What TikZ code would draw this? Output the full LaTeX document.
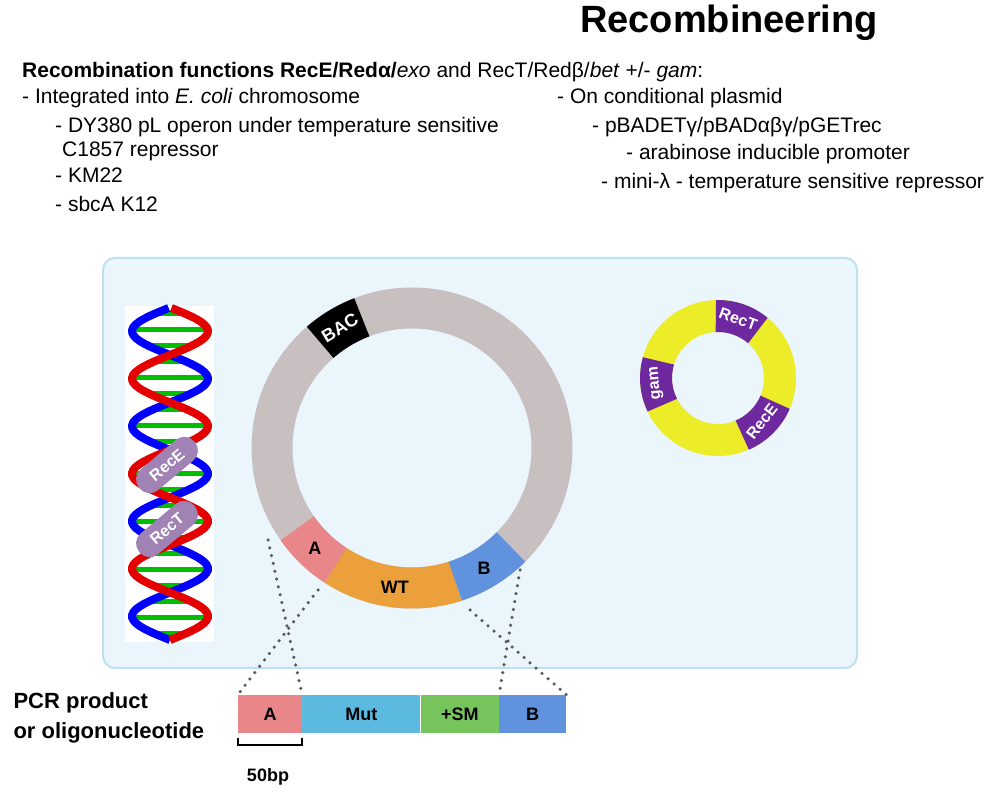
\documentclass[tikz,border=0pt]{standalone}
\usepackage{fontspec}
\setmainfont{Liberation Sans}
\definecolor{boxfill}{RGB}{234,245,252}
\definecolor{boxline}{RGB}{190,224,242}
\definecolor{ringgray}{RGB}{200,192,192}
\definecolor{segA}{RGB}{232,134,138}
\definecolor{segWT}{RGB}{236,160,60}
\definecolor{segB}{RGB}{96,146,222}
\definecolor{mut}{RGB}{92,186,224}
\definecolor{sm}{RGB}{120,196,92}
\definecolor{pill}{RGB}{160,130,180}
\definecolor{purp}{RGB}{110,40,160}
\definecolor{yel}{RGB}{236,236,40}
\begin{document}
\begin{tikzpicture}[x=1pt,y=1pt,
 txt/.style={anchor=base west,inner sep=0pt,font=\fontsize{21}{23}\selectfont},
 seg/.style={line width=41pt},
 sseg/.style={line width=32pt},
 lab/.style={font=\bfseries\fontsize{18}{20}\selectfont},
 slab/.style={font=\bfseries\fontsize{16}{18}\selectfont,text=white},
 dots/.style={draw=gray!70!black,line width=3.5pt,line cap=round,dash pattern=on 0pt off 8pt},
 bar/.style={draw=none,minimum height=38pt,inner sep=0pt,font=\bfseries\fontsize{18}{20}\selectfont},
 pillst/.style={rotate=40,fill=pill,rounded corners=13pt,minimum width=72pt,minimum height=27pt,inner sep=1pt,font=\bfseries\fontsize{16}{18}\selectfont,text=white}]
\useasboundingbox (0,0) rectangle (1000,797);
\fill[white] (0,0) rectangle (1000,797);
% title and text
\node[anchor=base,font=\bfseries\fontsize{38}{40}\selectfont] (title) at (729,764) {Recombineering};
\node[txt] (h) at (22,719) {\textbf{Recombination functions RecE/Redα/}\textit{exo} and RecT/Redβ/\textit{bet} +/- \textit{gam}:};
\node[txt] (l1) at (22,693) {- Integrated into \textit{E. coli} chromosome};
\node[txt] (l2) at (55,664) {- DY380 pL operon under temperature sensitive};
\node[txt] (l3) at (62,640) {C1857 repressor};
\node[txt] (l4) at (55,614) {- KM22};
\node[txt] (l5) at (55,585) {- sbcA K12};
\node[txt] (r1) at (557,693) {- On conditional plasmid};
\node[txt] (r2) at (592,664) {- pBADETγ/pBADαβγ/pGETrec};
\node[txt] (r3) at (626,637) {- arabinose inducible promoter};
\node[txt] (r4) at (601,608) {- mini-λ - temperature sensitive repressor};
% cell box
\draw[draw=boxline,line width=2pt,fill=boxfill,rounded corners=12pt] (103,129) rectangle (857,539);
% DNA helix
\fill[white] (125,155) rectangle (214,491);
\foreach \y in {163,179,...,487} {
  \pgfmathsetmacro{\w}{abs(38*sin(3.789*(\y-157)))}
  \draw[green!75!black,line width=5pt] ({170-\w},\y) -- ({170+\w},\y);
}
\draw[blue,line width=8pt] plot[domain=157:489,samples=120] ({170-38*sin(3.789*(\x-157))},\x);
\draw[red!90!black,line width=8pt] plot[domain=157:489,samples=120] ({170+38*sin(3.789*(\x-157))},\x);
\node[pillst] (rece) at (167,332) {RecE};
\node[pillst] (rect) at (167,268) {RecT};
% main ring
\begin{scope}[shift={(412,349)}]
\draw[seg,color=ringgray] (0,0) circle[radius=140pt];
\draw[seg,color=black] (111:140pt) arc[start angle=111,end angle=131,radius=140pt];
\draw[seg,color=segA] (-145:140pt) arc[start angle=-145,end angle=-123,radius=140pt];
\draw[seg,color=segWT] (-123:140pt) arc[start angle=-123,end angle=-72,radius=140pt];
\draw[seg,color=segB] (-72:140pt) arc[start angle=-72,end angle=-45,radius=140pt];
\node[lab,text=white,rotate=31] (bac) at (121:140pt) {BAC};
\node[lab] (ra) at (-134:140pt) {A};
\node[lab] (rwt) at (-97:140pt) {WT};
\node[lab] (rb) at (-59:140pt) {B};
\end{scope}
\coordinate (a1) at (268,257);
\coordinate (a2) at (318,207);
\coordinate (b1) at (470,187);
\coordinate (b2) at (520,227);
% small ring
\begin{scope}[shift={(718,419)}]
\draw[sseg,color=yel] (0,0) circle[radius=62pt];
\draw[sseg,color=purp] (50:62pt) arc[start angle=50,end angle=92,radius=62pt];
\draw[sseg,color=purp] (164:62pt) arc[start angle=164,end angle=206,radius=62pt];
\draw[sseg,color=purp] (-67:62pt) arc[start angle=-67,end angle=-23,radius=62pt];
\node[slab,rotate=-20] (srt) at (71:62pt) {RecT};
\node[slab,rotate=95] (sg) at (185:62pt) {gam};
\node[slab,rotate=52] (sre) at (-45:62pt) {RecE};
\end{scope}
% PCR bar
\node[bar,fill=segA,minimum width=64pt] (pa) at (270,83) {A};
\node[bar,fill=mut,minimum width=118pt,anchor=west] (pm) at (pa.east) {Mut};
\node[bar,fill=sm,minimum width=78pt,anchor=west] (ps) at (pm.east) {+SM};
\node[bar,fill=segB,minimum width=67pt,anchor=west] (pb) at (ps.east) {B};
\draw[dots] (a1) -- (pa.north east);
\draw[dots] (a2) -- (pa.north west);
\draw[dots] (b2) -- (pb.north west);
\draw[dots] (b1) -- (pb.north east);
\node[anchor=base west,font=\bfseries\fontsize{22}{24}\selectfont] (pcr) at (10,88) {PCR product};
\node[anchor=base west,font=\bfseries\fontsize{22}{24}\selectfont] (pcr2) at (10,58) {or oligonucleotide};
% 50bp bracket
\coordinate (k1) at (238,52);
\coordinate (k2) at (302,52);
\draw[line width=1.5pt] ([yshift=7pt]k1) -- (k1) -- (k2) -- ([yshift=7pt]k2);
\node[anchor=base,font=\bfseries\fontsize{18}{20}\selectfont] (bp) at (268,16) {50bp};
\end{tikzpicture}
\end{document}
